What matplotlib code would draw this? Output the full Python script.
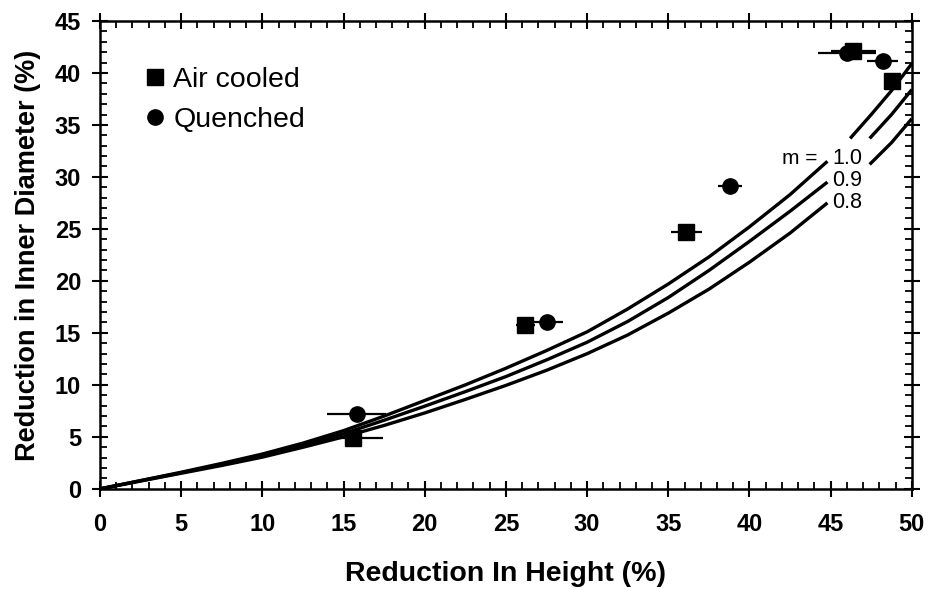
import matplotlib
matplotlib.use('Agg')
import matplotlib.pyplot as plt
from matplotlib.ticker import MultipleLocator

plt.rcParams['font.family'] = ['Liberation Sans', 'DejaVu Sans']

# ---- data ----
# experimental points (Reduction in Height %, Reduction in Inner Diameter %)
air_x = [15.6, 26.2, 36.1, 46.4, 48.8]
air_y = [4.9, 15.8, 24.7, 42.1, 39.2]
air_xerr = [1.8, 0.6, 0.95, 1.4, 0.3]

quench_x = [15.8, 27.5, 38.8, 46.0, 48.2]
quench_y = [7.2, 16.0, 29.1, 41.9, 41.1]
quench_xerr = [1.8, 1.0, 0.75, 1.8, 0.95]

# calibration curves for friction factor m
m10_x = [0, 2.5, 5, 7.5, 10, 12.5, 15, 17.5, 20, 22.5, 25, 27.5, 30, 32.5, 35, 37.5, 40, 42.5, 44.8,
         46.2, 47.5, 48.75, 50]
m10_y = [0, 0.8, 1.6, 2.45, 3.35, 4.4, 5.6, 7.0, 8.5, 10.0, 11.6, 13.3, 15.1, 17.3, 19.7, 22.3, 25.2, 28.3, 31.5,
         33.7, 36.0, 38.3, 40.9]
m09_x = [0, 2.5, 5, 7.5, 10, 12.5, 15, 17.5, 20, 22.5, 25, 27.5, 30, 32.5, 35, 37.5, 40, 42.5, 44.8,
         47.4, 48.75, 50]
m09_y = [0, 0.78, 1.55, 2.35, 3.2, 4.2, 5.3, 6.6, 7.95, 9.35, 10.8, 12.4, 14.1, 16.1, 18.4, 21.0, 23.8, 26.7, 29.5,
         33.7, 36.0, 38.4]
m08_x = [0, 2.5, 5, 7.5, 10, 12.5, 15, 17.5, 20, 22.5, 25, 27.5, 30, 32.5, 35, 37.5, 40, 42.5, 44.8,
         47.4, 48.75, 50]
m08_y = [0, 0.75, 1.5, 2.25, 3.05, 4.0, 5.0, 6.1, 7.3, 8.6, 9.95, 11.4, 13.0, 14.8, 16.9, 19.2, 21.8, 24.6, 27.5,
         31.2, 33.3, 35.6]
curve_labels = ['1.0', '0.9', '0.8']

# ---- layout / style ----
curves = [(m10_x, m10_y, (44.8, 46.2)),
          (m09_x, m09_y, (44.8, 47.4)),
          (m08_x, m08_y, (44.8, 47.4))]
label_pos = [(45.1, 31.8), (45.1, 29.7), (45.1, 27.5)]

fig = plt.figure(figsize=(9.3, 5.89), dpi=100)
ax = fig.add_axes([0.1075, 0.170, 0.873, 0.7945])

for xs, ys, (g0, g1) in curves:
    lo = [(x, y) for x, y in zip(xs, ys) if x <= g0]
    hi = [(x, y) for x, y in zip(xs, ys) if x >= g1]
    for seg in (lo, hi):
        ax.plot([p[0] for p in seg], [p[1] for p in seg], color='black', lw=2.4,
                solid_capstyle='butt', zorder=2)

ax.errorbar(air_x, air_y, xerr=air_xerr, fmt='none', ecolor='black', elinewidth=1.6,
            capsize=0, zorder=3)
ax.errorbar(quench_x, quench_y, xerr=quench_xerr, fmt='none', ecolor='black', elinewidth=1.6,
            capsize=0, zorder=3)
ax.plot(air_x, air_y, ls='none', marker='s', ms=11, color='black', label='Air cooled', zorder=4)
ax.plot(quench_x, quench_y, ls='none', marker='o', ms=11, color='black', label='Quenched', zorder=4)

ax.text(44.2, label_pos[0][1], 'm =', ha='right', va='center', fontsize=15)
for lab, (lx, ly) in zip(curve_labels, label_pos):
    ax.text(lx, ly, lab, ha='left', va='center', fontsize=15.5)

leg = ax.legend(loc='upper left', bbox_to_anchor=(0.043, 0.925), frameon=False, fontsize=20.5,
                handlelength=0.6, handletextpad=0.35, labelspacing=0.48, borderaxespad=0)

ax.set_xlim(0, 50)
ax.set_ylim(0, 45)
ax.xaxis.set_major_locator(MultipleLocator(5))
ax.xaxis.set_minor_locator(MultipleLocator(1))
ax.yaxis.set_major_locator(MultipleLocator(5))
ax.yaxis.set_minor_locator(MultipleLocator(1))
ax.tick_params(which='major', direction='inout', length=11, width=1.5, top=True, right=True,
               labelsize=17)
ax.tick_params(axis='x', which='major', pad=12)
ax.tick_params(axis='y', which='major', pad=8)
ax.tick_params(which='minor', direction='in', length=5, width=1.3, top=True, right=True)
for lab in ax.get_xticklabels() + ax.get_yticklabels():
    lab.set_fontweight('bold')
for sp in ax.spines.values():
    sp.set_linewidth(1.8)

ax.set_xlabel('Reduction In Height (%)', fontsize=20.5, fontweight='bold', labelpad=18)
ax.set_ylabel('Reduction in Inner Diameter (%)', fontsize=19.5, fontweight='bold', labelpad=10)

fig.savefig('out.png', dpi=100)
